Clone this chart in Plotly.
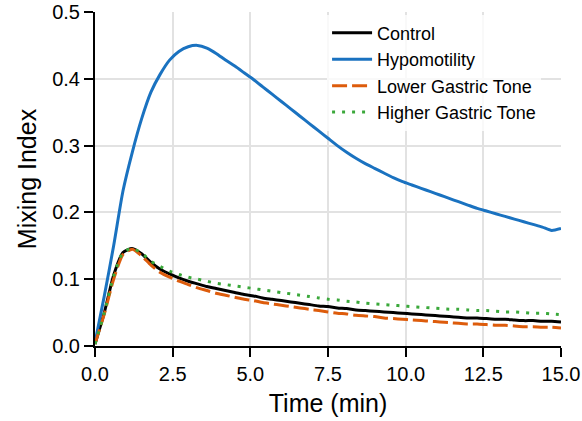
import plotly.graph_objects as go

# Sampling times (min)
time_min = [round(0.3 * i, 1) for i in range(51)]

control = [0.003, 0.050, 0.106, 0.140, 0.146, 0.138, 0.125, 0.115, 0.108, 0.102,
           0.097, 0.093, 0.089, 0.086, 0.083, 0.080, 0.077, 0.075, 0.072, 0.070,
           0.068, 0.066, 0.064, 0.062, 0.060, 0.059, 0.057, 0.056, 0.054, 0.053,
           0.052, 0.051, 0.050, 0.049, 0.048, 0.047, 0.046, 0.045, 0.044, 0.043,
           0.042, 0.042, 0.041, 0.040, 0.040, 0.039, 0.038, 0.038, 0.037, 0.037,
           0.036]

hypomotility = [0.005, 0.075, 0.150, 0.232, 0.290, 0.340, 0.380, 0.407, 0.428, 0.441,
                0.448, 0.450, 0.446, 0.438, 0.428, 0.419, 0.409, 0.399, 0.388, 0.377,
                0.366, 0.355, 0.344, 0.333, 0.322, 0.311, 0.300, 0.290, 0.281, 0.273,
                0.266, 0.259, 0.252, 0.246, 0.241, 0.236, 0.231, 0.226, 0.221, 0.216,
                0.211, 0.206, 0.202, 0.198, 0.194, 0.190, 0.186, 0.182, 0.178, 0.173,
                0.176]

lower_tone = [0.003, 0.048, 0.100, 0.137, 0.145, 0.135, 0.121, 0.110, 0.103, 0.097,
              0.092, 0.087, 0.083, 0.079, 0.076, 0.073, 0.070, 0.068, 0.065, 0.063,
              0.061, 0.059, 0.057, 0.055, 0.053, 0.051, 0.049, 0.048, 0.046, 0.045,
              0.044, 0.042, 0.041, 0.040, 0.039, 0.038, 0.037, 0.036, 0.035, 0.034,
              0.033, 0.033, 0.032, 0.031, 0.031, 0.030, 0.029, 0.029, 0.028, 0.028,
              0.027]

higher_tone = [0.003, 0.050, 0.105, 0.140, 0.146, 0.139, 0.127, 0.119, 0.112, 0.107,
               0.103, 0.100, 0.097, 0.094, 0.092, 0.090, 0.088, 0.086, 0.084, 0.082,
               0.080, 0.078, 0.076, 0.074, 0.072, 0.070, 0.069, 0.067, 0.066, 0.064,
               0.063, 0.062, 0.061, 0.060, 0.059, 0.058, 0.057, 0.056, 0.055, 0.055,
               0.054, 0.053, 0.053, 0.052, 0.051, 0.051, 0.050, 0.049, 0.049, 0.048,
               0.047]

x_ticks = [0, 2.5, 5, 7.5, 10, 12.5, 15]
x_tick_labels = ["0.0", "2.5", "5.0", "7.5", "10.0", "12.5", "15.0"]
y_ticks = [0, 0.1, 0.2, 0.3, 0.4, 0.5]
y_tick_labels = ["0.0", "0.1", "0.2", "0.3", "0.4", "0.5"]

series = [
    ("Control", control, "#000000", "solid"),
    ("Hypomotility", hypomotility, "#1a72c0", "solid"),
    ("Lower Gastric Tone", lower_tone, "#dd5c0c", "15px,5px"),
    ("Higher Gastric Tone", higher_tone, "#3aa83a", "3px,7px"),
]

FONT = "Liberation Sans, Arial, Helvetica, sans-serif"

fig = go.Figure()
for name, values, color, dash in series:
    fig.add_trace(go.Scatter(
        x=time_min, y=values, name=name, mode="lines",
        line=dict(color=color, width=3, dash=dash, shape="spline", smoothing=0.6),
    ))

axis_common = dict(
    showgrid=True, gridcolor="#e2e2e2", gridwidth=1.5,
    showline=True, linecolor="black", linewidth=2,
    ticks="outside", ticklen=9, tickwidth=2, tickcolor="black",
    zeroline=False, mirror=False, automargin=False,
    tickfont=dict(family=FONT, size=20, color="black"),
)

fig.update_xaxes(
    range=[0, 15], tickvals=x_ticks, ticktext=x_tick_labels,
    title=dict(text="Time (min)", font=dict(family=FONT, size=25, color="black"), standoff=10),
    **axis_common,
)
fig.update_yaxes(
    range=[0, 0.5], tickvals=y_ticks, ticktext=y_tick_labels,
    title=dict(text="Mixing Index", font=dict(family=FONT, size=25, color="black"), standoff=8),
    **axis_common,
)

fig.update_layout(
    width=582, height=421,
    margin=dict(l=95, r=21, t=12, b=75),
    plot_bgcolor="white", paper_bgcolor="white",
    font=dict(family=FONT, color="black"),
    legend=dict(
        x=0.498, y=0.992, xanchor="left", yanchor="top",
        bgcolor="rgba(255,255,255,0.8)",
        font=dict(family=FONT, size=18, color="black"),
        itemwidth=40, tracegroupgap=0,
    ),
    showlegend=True,
)

fig.write_html("out.html")
